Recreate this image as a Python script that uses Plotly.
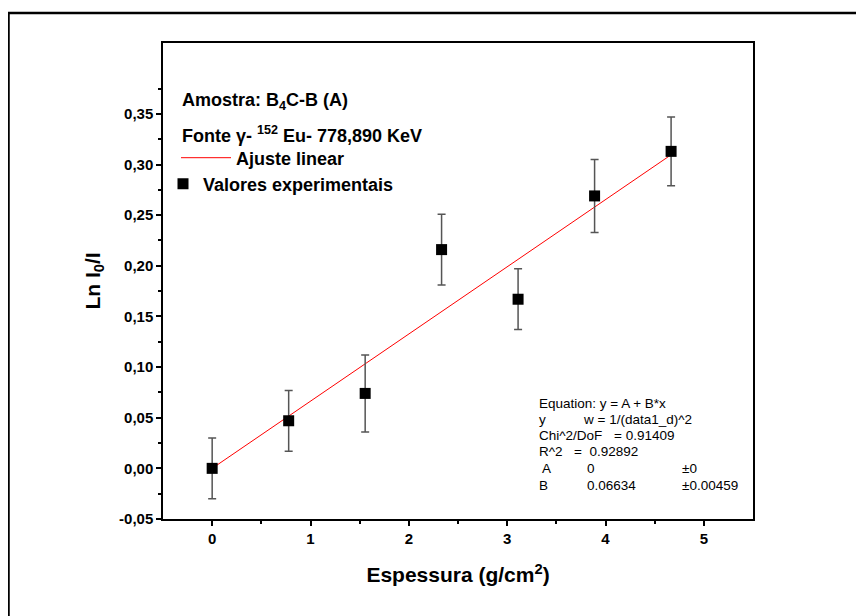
import plotly.graph_objects as go

# ---- data ----
espessura = [0.0, 0.778, 1.556, 2.333, 3.111, 3.889, 4.667]
ln_ratio = [0.000, 0.047, 0.074, 0.216, 0.167, 0.269, 0.313]
erro = [0.030, 0.030, 0.038, 0.035, 0.030, 0.036, 0.034]

fit_x = [0.0, 4.667]
fit_y = [0.0, 0.3096]

x_tick_vals = [0, 1, 2, 3, 4, 5]
x_tick_labels = ["0", "1", "2", "3", "4", "5"]
x_minor_vals = [0.5, 1.5, 2.5, 3.5, 4.5]
y_tick_vals = [-0.05, 0.0, 0.05, 0.10, 0.15, 0.20, 0.25, 0.30, 0.35]
y_tick_labels = ["-0,05", "0,00", "0,05", "0,10", "0,15", "0,20", "0,25", "0,30", "0,35"]
y_minor_vals = [-0.025, 0.025, 0.075, 0.125, 0.175, 0.225, 0.275, 0.325, 0.375]

eq_col1 = ["Equation: y = A + B*x", "y", "Chi^2/DoF", "R^2", " A", "B"]

FONT = "Liberation Sans, Arial, sans-serif"

# ---- geometry (styling only) ----
W, H = 864, 616
OFF = 8  # page body margin: figure origin sits at page (8, 8)
PL, PR, PT, PB = 163, 753, 43, 519  # plot area in page pixels
L, T = PL - OFF, PT - OFF
R = W - (PR - OFF)
B = H - (PB - OFF)
PW, PH = PR - PL, PB - PT


def px(x):
    return (x - PL) / PW


def py(y):
    return (PB - y) / PH


fig = go.Figure()

fig.add_trace(go.Scatter(
    x=fit_x, y=fit_y, mode="lines", name="Ajuste linear",
    line=dict(color="#ff0000", width=1), legend="legend",
))
fig.add_trace(go.Scatter(
    x=espessura, y=ln_ratio, mode="markers", name="Valores experimentais",
    marker=dict(symbol="square", size=11, color="black"),
    error_y=dict(type="data", array=erro, visible=True, color="#555555",
                 thickness=1.5, width=4),
    legend="legend2",
))

axis_common = dict(
    showline=True, linecolor="black", linewidth=1.5, mirror=True,
    ticks="outside", ticklen=5, tickwidth=1.5, tickcolor="black",
    showgrid=False, zeroline=False,
    tickfont=dict(family=FONT, size=15, color="black", weight="bold"),
)

fig.update_xaxes(
    range=[-0.5, 5.5], tickvals=x_tick_vals, ticktext=x_tick_labels,
    minor=dict(ticks="outside", ticklen=3, tickwidth=1.5, tickcolor="black", tickvals=x_minor_vals),
    title=dict(text="Espessura (g/cm<sup>2</sup>)", standoff=22,
               font=dict(family=FONT, size=21, color="black", weight="bold")),
    **axis_common,
)
fig.update_yaxes(
    range=[-0.05, 0.42], tickvals=y_tick_vals, ticktext=y_tick_labels,
    minor=dict(ticks="outside", ticklen=3, tickwidth=1.5, tickcolor="black", tickvals=y_minor_vals),
    title=dict(text="Ln I<sub>0</sub>/I", standoff=13,
               font=dict(family=FONT, size=21, color="black", weight="bold")),
    **axis_common,
)

annotations = [
    dict(text="<b>Amostra: B<sub>4</sub>C-B (A)</b>", x=px(180), y=py(101)),
    dict(text="<b>Fonte γ- <sup>152</sup> Eu- 778,890 KeV</b>", x=px(180), y=py(135)),
]
for a in annotations:
    a.update(xref="paper", yref="paper", xanchor="left", yanchor="middle",
             showarrow=False, font=dict(family=FONT, size=18, color="black"))

# fit result box
rows_y = [403, 419, 435, 451, 468, 485]
eq_items = [
    (eq_col1[0], 537, rows_y[0]),
    (eq_col1[1], 537, rows_y[1]),
    ("w = 1/(data1_d)^2", 581, rows_y[1]),
    (eq_col1[2], 537, rows_y[2]),
    ("= 0.91409", 612, rows_y[2]),
    (eq_col1[3], 537, rows_y[3]),
    ("=  0.92892", 572, rows_y[3]),
    (eq_col1[4], 537, rows_y[4]),
    ("0", 585, rows_y[4]),
    ("±0", 680, rows_y[4]),
    (eq_col1[5], 537, rows_y[5]),
    ("0.06634", 585, rows_y[5]),
    ("±0.00459", 680, rows_y[5]),
]
for txt, xx, yy in eq_items:
    annotations.append(dict(
        text=txt, x=px(xx), y=py(yy), xref="paper", yref="paper",
        xanchor="left", yanchor="middle", showarrow=False,
        font=dict(family=FONT, size=13.5, color="black"),
    ))

shapes = [
    dict(type="rect", xref="paper", yref="paper",
         x0=px(8.5), x1=px(900), y0=py(680), y1=py(13),
         line=dict(color="black", width=2.5), fillcolor="rgba(0,0,0,0)", layer="below"),
]

legend_font = dict(family=FONT, size=18, color="black", weight="bold")
fig.update_layout(
    width=W, height=H,
    margin=dict(l=L, r=R, t=T, b=B, pad=0),
    paper_bgcolor="white", plot_bgcolor="white",
    separators=",.",
    annotations=annotations,
    shapes=shapes,
    legend=dict(x=px(176), y=py(158), xanchor="left", yanchor="middle",
                font=legend_font, bgcolor="rgba(0,0,0,0)", itemwidth=50,
                tracegroupgap=0),
    legend2=dict(x=px(163), y=py(184), xanchor="left", yanchor="middle",
                 font=legend_font, bgcolor="rgba(0,0,0,0)", itemwidth=30,
                 tracegroupgap=0),
    showlegend=True,
)

fig.write_html("out.html")
